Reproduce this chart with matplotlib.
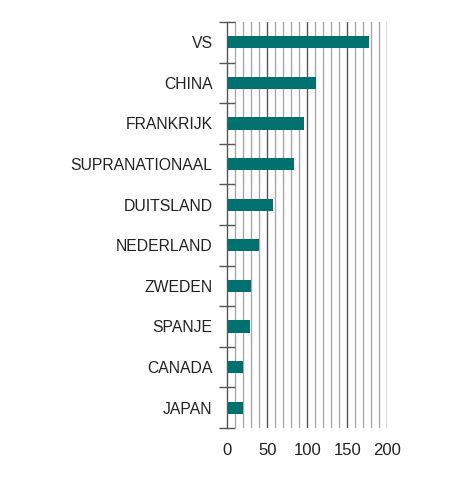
import matplotlib
matplotlib.use("Agg")
import matplotlib.pyplot as plt
import numpy as np

categories = ["VS", "CHINA", "FRANKRIJK", "SUPRANATIONAAL", "DUITSLAND",
              "NEDERLAND", "ZWEDEN", "SPANJE", "CANADA", "JAPAN"]
values = [177, 111, 96, 83, 57, 40, 30, 28, 20, 19]
xticks = [0, 50, 100, 150, 200]

plt.rcParams['font.family'] = ['Liberation Sans', 'DejaVu Sans']

fig = plt.figure(figsize=(4.75, 4.78), dpi=100)
ax = fig.add_axes([227.3/475, 1-428/478, 160/475, (428-22)/478])

n = len(categories)
ypos = np.arange(n)
ax.barh(ypos, values, height=0.3, color="#00716E", zorder=3)
ax.set_ylim(n - 0.5, -0.5)
ax.set_xlim(0, 200)

# gridlines
for x in range(10, 201, 10):
    if x % 50 == 0:
        ax.axvline(x, color="#555555", lw=1.0, zorder=1)
    else:
        ax.axvline(x, color="#a8a8a8", lw=1.0, zorder=1)

for s in ["top", "right", "bottom"]:
    ax.spines[s].set_visible(False)
ax.spines["left"].set_color("#555555")
ax.spines["left"].set_linewidth(1.0)
ax.spines["left"].set_zorder(4)

ax.set_yticks(np.arange(-0.5, n, 1.0), minor=False)
ax.set_yticklabels([])
ax.tick_params(axis="y", which="major", direction="inout", length=11,
               width=1.0, color="#555555")
ax.set_yticks(ypos, minor=True)
ax.set_yticklabels(categories, minor=True)
ax.tick_params(axis="y", which="minor", length=0, pad=10.5,
               labelsize=11.3, labelcolor="#222222")

ax.set_xticks(xticks)
ax.set_xticklabels([str(v) for v in xticks])
ax.tick_params(axis="x", length=0, pad=10.5, labelsize=12, labelcolor="#222222")

fig.savefig("out.png", dpi=100)
